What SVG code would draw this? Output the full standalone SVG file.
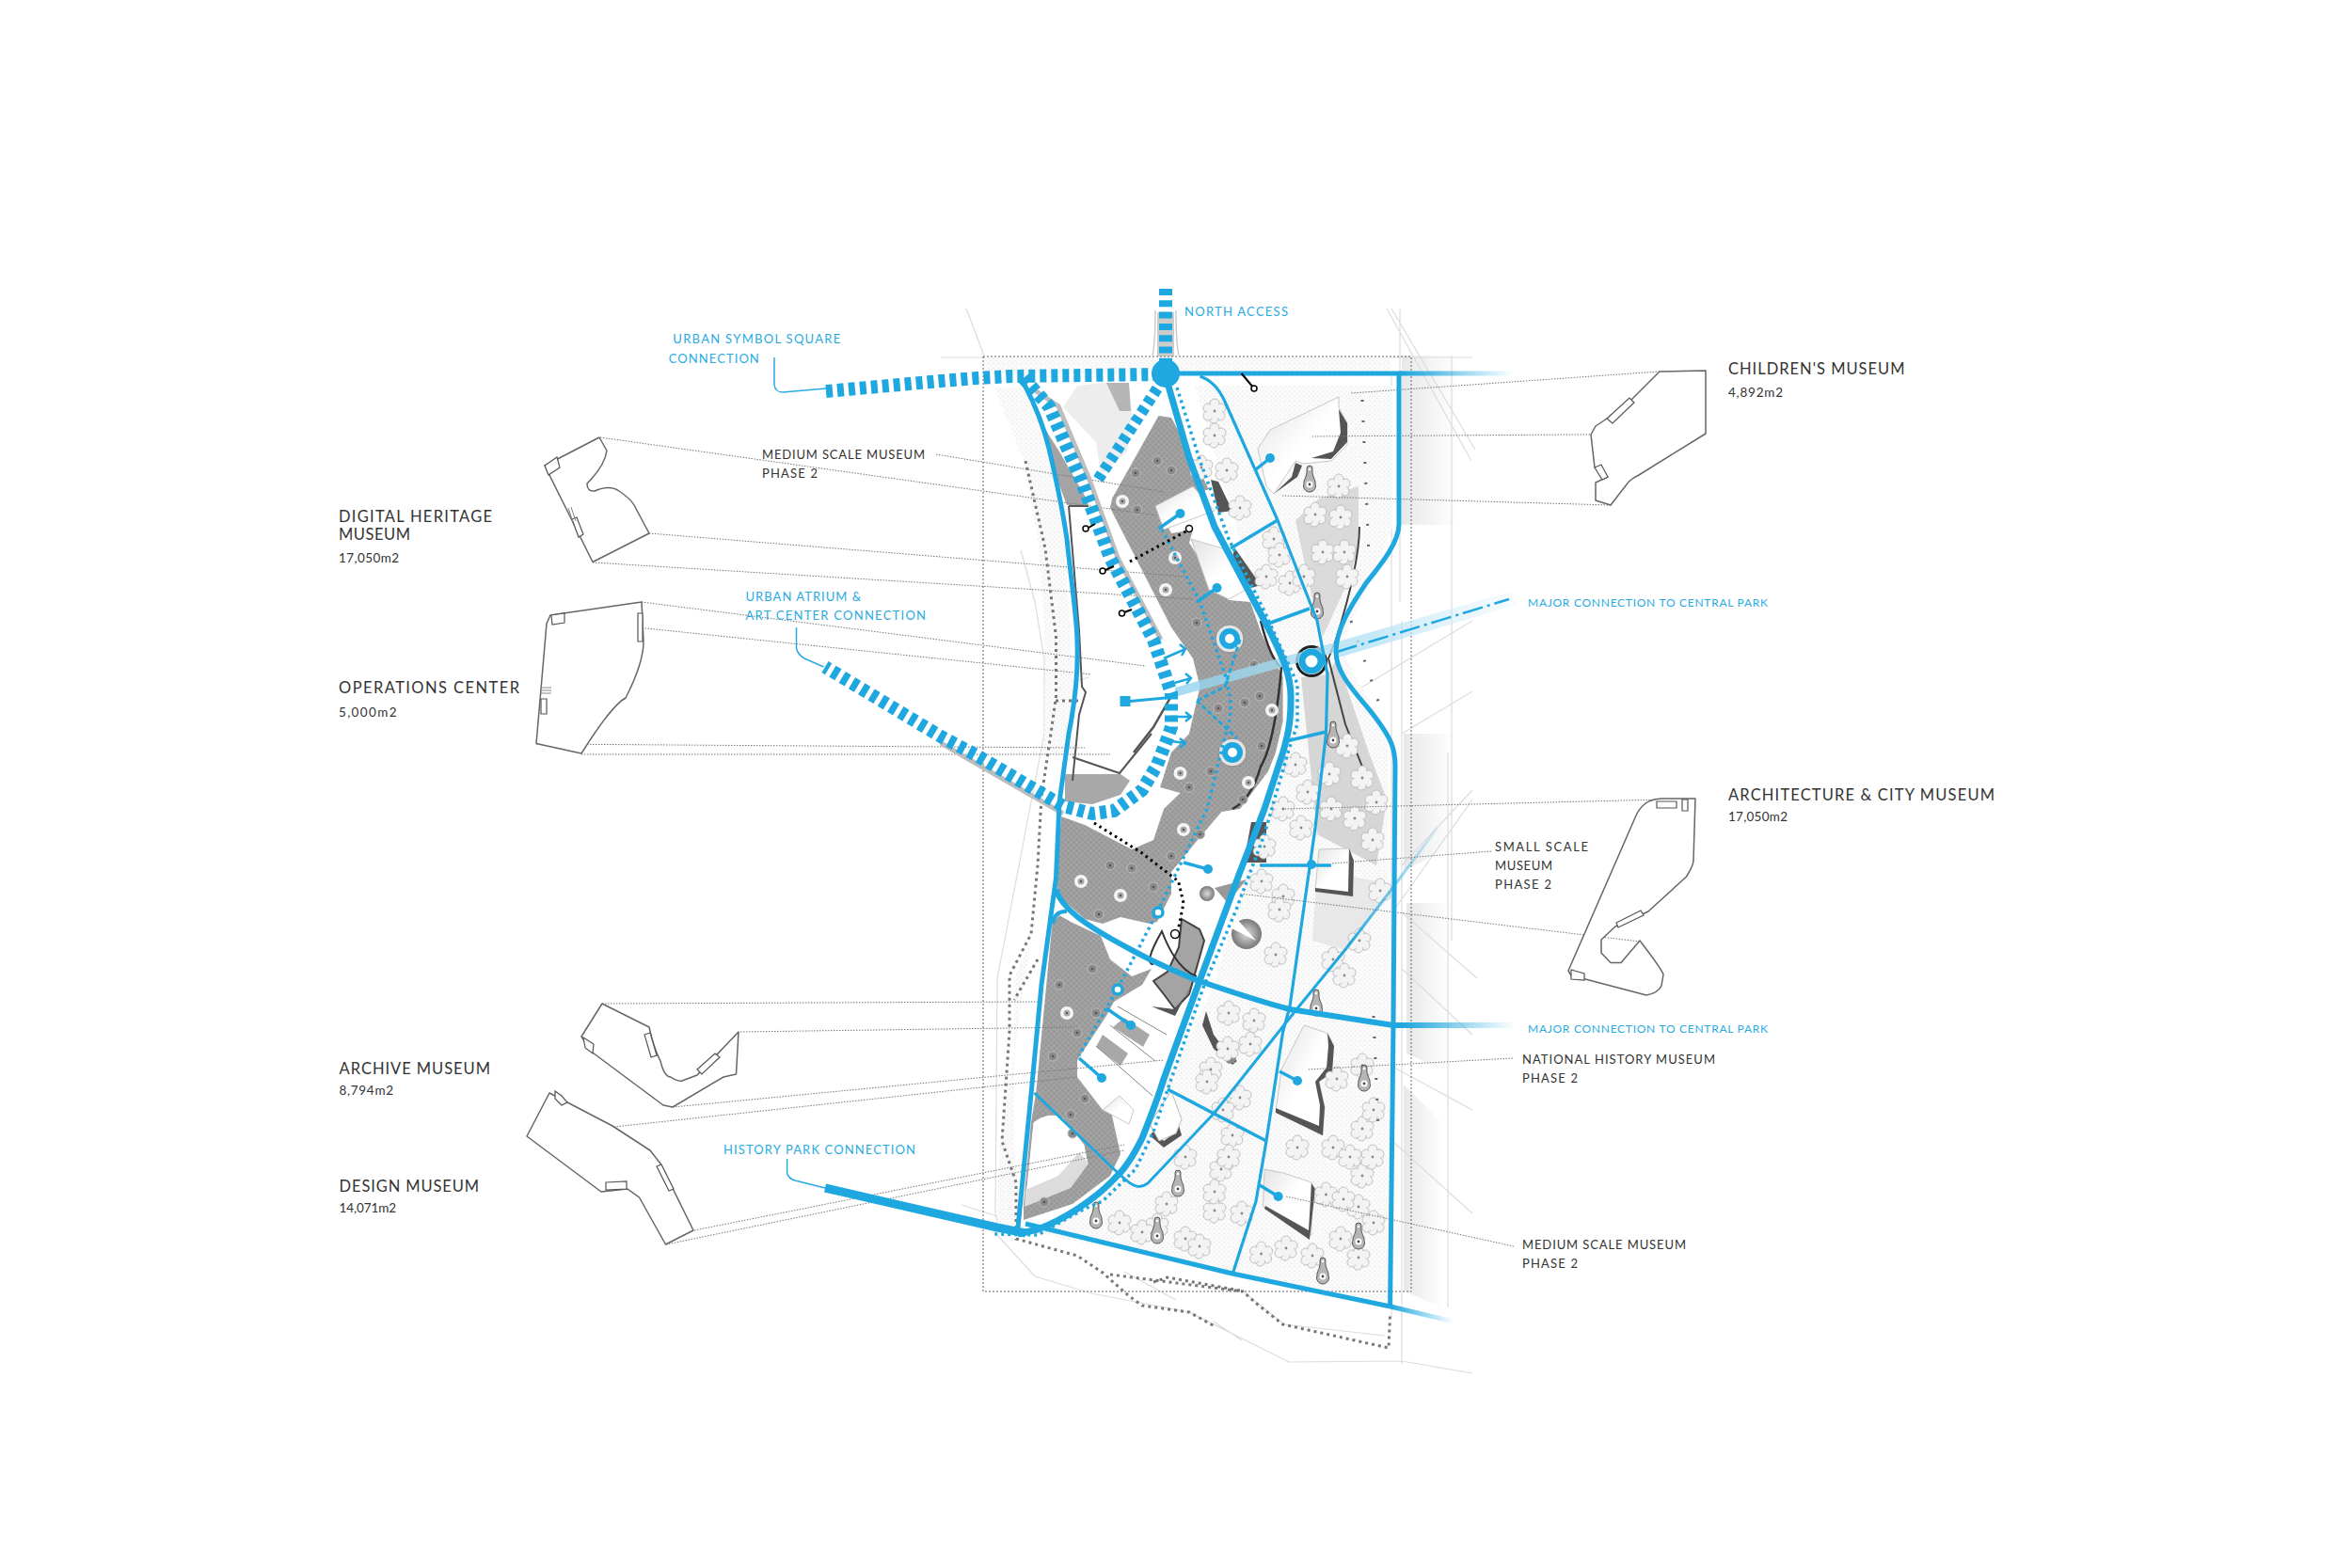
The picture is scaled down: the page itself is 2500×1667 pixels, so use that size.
<svg xmlns="http://www.w3.org/2000/svg" width="2500" height="1667" viewBox="0 0 2500 1667">
<style>
text{font-family:"Lato","Liberation Sans",sans-serif;font-size:13px;fill:#333}
.h{font-size:16.5px;font-weight:400;fill:#333}
.n{font-size:13.5px}
.b{fill:#29abe2}
.ld{fill:none;stroke:#777;stroke-width:1;stroke-dasharray:1.5 1.5}
.key{fill:#fff;stroke:#666;stroke-width:1.5;stroke-linejoin:round}
.kd{fill:#fff;stroke:#555;stroke-width:1.2}
.ctx{fill:none;stroke:#dcdcdc;stroke-width:1.2}
.call{fill:none;stroke:#29abe2;stroke-width:1.5}
.r{fill:none;stroke:#1fa8e0;stroke-linecap:butt;stroke-linejoin:round}
.dash{fill:none;stroke:#1fa8e0;stroke-width:14;stroke-dasharray:7 5}
.under{fill:none;stroke:#bdbdbd;stroke-width:5}
.dot{fill:none;stroke:#1fa8e0;stroke-width:3.5;stroke-dasharray:3 4}
.bd{fill:none;stroke:#000;stroke-width:3;stroke-dasharray:2.5 4}
.gd{fill:none;stroke:#777;stroke-width:3;stroke-dasharray:3 4}
.dk{fill:#555}
.w{fill:#fff}
.pin{fill:none;stroke:#000;stroke-width:2}
.ring{fill:#fff;stroke:#000;stroke-width:1.5}
.bl{fill:#1fa8e0}
.bldg{fill:url(#bg);stroke:#bbb;stroke-width:.8}
</style>
<defs>
<linearGradient id="bg" x1="0" y1="0" x2="1" y2="1"><stop offset="0" stop-color="#e2e2e2"/><stop offset=".5" stop-color="#fff"/><stop offset="1" stop-color="#fff"/></linearGradient>
<linearGradient id="side" x1="0" x2="1" y1="0" y2="0"><stop offset="0" stop-color="#e8e8e8"/><stop offset="1" stop-color="#fff"/></linearGradient>
<linearGradient id="f1" gradientUnits="userSpaceOnUse" x1="1490" y1="0" x2="1610" y2="0"><stop offset="0" stop-color="#1fa8e0"/><stop offset="1" stop-color="#1fa8e0" stop-opacity="0"/></linearGradient>
<linearGradient id="f2" gradientUnits="userSpaceOnUse" x1="1478" y1="1389" x2="1545" y2="1405"><stop offset="0" stop-color="#1fa8e0"/><stop offset="1" stop-color="#1fa8e0" stop-opacity="0"/></linearGradient>
<linearGradient id="f3" gradientUnits="userSpaceOnUse" x1="1432" y1="1007" x2="1528" y2="880"><stop offset="0" stop-color="#1fa8e0"/><stop offset="1" stop-color="#1fa8e0" stop-opacity=".1"/></linearGradient>
<linearGradient id="f4" gradientUnits="userSpaceOnUse" x1="1249" y1="742" x2="1610" y2="642"><stop offset="0" stop-color="#8fd2ee"/><stop offset=".6" stop-color="#b9e3f5"/><stop offset="1" stop-color="#d9f0fa" stop-opacity=".3"/></linearGradient>
<radialGradient id="cone"><stop offset="0" stop-color="#ddd"/><stop offset="1" stop-color="#777"/></radialGradient>
<pattern id="stip" width="5" height="5" patternUnits="userSpaceOnUse"><rect width="5" height="5" fill="#fbfbfb"/><circle cx="1" cy="1" r=".6" fill="#d4d4d4"/><circle cx="3.500" cy="3.500" r=".5" fill="#dedede"/></pattern>
<pattern id="half" width="6" height="6" patternUnits="userSpaceOnUse"><rect width="6" height="6" fill="#a2a2a2"/><circle cx="1.500" cy="1.500" r="1.200" fill="#949494"/><circle cx="4.500" cy="4.500" r="1.200" fill="#949494"/></pattern>
<g id="tr"><g fill="#f3f3f3" stroke="#b4b4b4" stroke-width=".8"><circle cx="-7" cy="-3" r="5"/><circle cx="0" cy="-8" r="5"/><circle cx="7" cy="-3" r="5"/><circle cx="6" cy="5" r="5"/><circle cx="-1" cy="8" r="5"/><circle cx="-7" cy="5" r="5"/></g><circle r="8" fill="#f3f3f3"/><circle r="1.400" fill="#888"/></g>
<g id="gc"><circle r="5" fill="#8a8a8a" stroke="#bdbdbd" stroke-width="1"/><circle r="1.300" fill="#555"/></g>
<g id="wc"><circle r="7" fill="#fff" opacity=".9"/><circle r="3.500" fill="#aaa"/><circle r="1.200" fill="#555"/></g>
<g id="fn"><path d="M-6 4 A6.500 6.500 0 1 0 6 4 C7 0 2 -3 3 -12 A3 3 0 0 0 -3 -12 C-2 -3 -7 0 -6 4Z" fill="#b5b5b5" stroke="#333" stroke-width=".8"/><circle cy="5" r="3.500" fill="#fff"/><circle cy="5" r="1.400" fill="#444"/><circle cy="-11" r="1.300" fill="#fff"/></g>
</defs>
<rect width="2500" height="1667" fill="#fff"/>

<g id="site-context">
<rect x="1490" y="378" width="60" height="180" fill="url(#side)"/>
<path d="M1492 780H1545V900L1492 925Z" fill="url(#side)"/>
<path d="M1495 960H1540V1140L1495 1120Z" fill="url(#side)"/>
<path d="M1492 1153L1535 1195V1392L1492 1372Z" fill="url(#side)"/>
<path class="ctx" d="M1027 328L1046 378M1474 328L1564 490M1479 328L1568 478M1488 328V640M1543 378V1000M1000 380H1565M1479 400V1400M1490 660V1450M1539 800V1390M1565 660L1432 740M1565 735L1490 780M1565 840L1490 920M1565 850L1480 970M1570 1040L1490 970M1565 1100L1490 1030M1565 1180L1482 1135M1565 1290L1482 1215M1022 1281L1082 1300M1060 1313L1100 1357L1160 1375L1264 1395L1370 1448L1490 1447L1565 1460M1290 1405L1320 1425M1320 1372L1365 1408L1472 1420M1195 1352L1250 1382"/>
<path class="ctx" d="M1085 585L1100 640L1110 700V780L1060 1040L1058 1290L1060 1300M1158 720L1120 730V800"/>
<path d="M1225 378Q1228 365 1228 330M1253 378Q1250 365 1250 330" fill="none" stroke="#ccc" stroke-width="1.500"/>
<rect x="1230" y="332" width="18" height="48" fill="#ccc"/>
<path d="M1045 379H1478V397H1045Z" fill="url(#stip)"/>
<path d="M1057 412H1088L1107 450L1130 550L1138 680L1142 800L1110 800L1111 680L1103 570L1088 490Z" fill="url(#stip)"/>
<path d="M1096 1000L1078 1040L1078 1210L1085 1305L1060 1300L1062 1220Z" fill="url(#stip)"/>
</g>

<g id="plan">
<path d="M1270 410H1480V560L1425 690L1475 780L1478 1385L1105 1312L1190 1250L1240 1150L1290 1050L1380 730L1340 650Z" fill="url(#stip)"/>
<path d="M1377 553L1402 530L1444 517V583L1432 620L1406 677L1394 633Z" fill="#dadada"/>
<path d="M1383 720L1411 717L1421 700L1455 800L1474 850L1463 920L1400 887Z" fill="#d6d6d6"/>
<path d="M1400 925L1480 940L1430 1010L1395 1000Z" fill="#e8e8e8"/>
<path d="M1231.500 442L1245 444L1285 520L1230 538L1245 567L1268 563L1264 577L1283 607L1306 638L1329 640L1340.600 673L1363.600 720L1363.600 767L1356 800L1348 820L1318 860L1298.500 863L1275.500 890L1245 927L1245 950L1230 980L1222 982L1191 975L1172 982L1153 977L1130 957L1122.500 940L1128 868L1153 877L1203 903L1226 893L1237 860L1254.500 843L1233 837L1245 800L1264 780L1275.500 730L1268 700L1245 667L1180 540L1182 530Z" fill="url(#half)"/>
<path d="M1107 450L1126 480L1153 527L1157 537L1134 537L1122.500 507L1111 470Z" fill="#a4a4a4"/>
<path d="M1174 407L1200 407L1203 440L1198 480L1170 505L1165 470L1130 433L1145 410Z" fill="#ededed"/>
<path d="M1176 407H1200L1202 437H1190Z" fill="#b5b5b5"/>
<path d="M1132 823H1191L1201 830L1191 845L1161 855L1132 852Z" fill="#a8a8a8"/>
<path d="M1126 973L1138 980L1170 995L1180 1020L1203 1038L1224 1030L1214 1047L1184 1065L1176 1080L1145 1127L1145 1145L1180 1177L1191 1227L1180 1250L1140 1280L1088 1297L1088 1280L1096 1193L1101.400 1160L1118.600 980Z" fill="url(#half)"/>
<path d="M1098 1193Q1115 1180 1130 1188L1153 1217L1157 1237L1138 1263L1089 1280Z" fill="#fff" stroke="#999"/>
<path d="M1089 1283L1138 1263L1157 1237L1147 1225L1125 1250L1090 1265Z" fill="#dcdcdc"/>
<path d="M1256 977L1275 988L1280 1000L1264 1057L1249 1073L1237 1057L1226 1043L1241 1033L1253 1007Z" fill="#a4a4a4" stroke="#444" stroke-width="2"/>
<path d="M1226 1025Q1215 1025 1235 990Q1250 1030 1272 1038" fill="none" stroke="#333" stroke-width="2"/>
<path d="M1136 538H1157M1136 538L1147 670L1150 730L1154 736L1147 760L1140 830M1140 805L1190 822L1224 780" fill="none" stroke="#555" stroke-width="2"/>
<path d="M1245 740L1226 773L1205 800" fill="none" stroke="#555" stroke-width="2.500"/>
<path d="M1340 660Q1350 700 1362 710Q1355 790 1340 815Q1330 850 1310 860" fill="none" stroke="#333" stroke-width="2.500"/>
<path d="M1420 680L1412 700L1430 770L1454 830M1445 560Q1445 600 1420 680" fill="none" stroke="#444" stroke-width="2"/>
<g id="bldg-children"><path class="bldg" d="M1350 457L1423 422L1423 433L1432 450L1432 473L1415 490L1385 493L1377 490L1354 525L1346 517L1337 477Z"/><path class="dk" d="M1423 435L1432 450L1432 470L1415 488L1394 487L1417 480L1425 460ZM1377 492L1384 495L1379 507L1354 525L1373 507Z"/></g>
<g id="bldg-2"><path class="bldg" d="M1228 538L1268 517L1291 543L1237 563Z"/><path class="dk" d="M1287 510L1295 512L1310 543L1295 545Z"/></g>
<g id="bldg-3"><path class="bldg" d="M1266 573L1306 585L1337 620L1306 637L1285 627Z"/><path class="dk" d="M1312 582L1340 622L1330 625L1310 595Z"/></g>
<g id="bldg-white"><path class="w" d="M1302 867L1329 863L1337 873L1318 923L1295 937L1275.500 943L1260 917Z"/><circle cx="1283" cy="950" r="8" fill="url(#cone)"/><path d="M1291 944L1325 935L1305 960Z" fill="#999"/><circle cx="1325" cy="993" r="16" fill="url(#cone)"/><path class="w" d="M1270 975L1305 985L1335 1000L1300 960Z"/><path class="dk" d="M1330 874H1346V917H1322Z"/></g>
<g id="bldg-small"><path class="bldg" d="M1402 903L1434 902L1438 952L1398 947Z"/><path class="dk" d="M1434 902L1439 915L1438 953L1398 948L1398 944L1433 948Z"/></g>
<g id="bldg-south"><path class="w" d="M1195 1062L1222 1073L1207 1100L1180 1090ZM1165 1112L1179 1085L1240 1140L1226 1192L1214 1180L1200 1190L1172 1180L1145 1145Z"/><path d="M1165 1113L1191 1133L1199 1120L1172 1100ZM1183 1092L1215 1113L1222 1100L1195 1082Z" fill="#a8a8a8"/><path class="bldg" d="M1172 1180L1190 1165L1205 1180L1200 1195Z"/><path d="M1180 1090L1228 1128M1165 1112L1225 1165M1188 1070L1240 1100" stroke="#888" fill="none"/><path d="M1224 1070L1249 1080L1266 1047L1262 1056L1249 1073Z" class="dk"/><path class="dk" d="M1222 1207L1237 1220L1256 1207L1252 1193L1248 1205L1237 1213L1226 1203Z"/><path d="M1245 1160L1256 1190L1250 1205L1232 1213L1222 1195Z" fill="#fff" stroke="#bbb"/><path class="dk" d="M1282 1075L1290 1100L1305 1120L1315 1128L1310 1132L1290 1115L1278 1090Z"/><circle cx="1308" cy="1125" r="6" fill="#888"/></g>
<g id="bldg-national"><path class="bldg" d="M1386 1090L1409.600 1098L1417 1112L1415 1140L1402 1150L1408 1177L1405.600 1207L1356 1182L1362 1137Z"/><path class="dk" d="M1411 1098L1418 1112L1416 1140L1402 1150L1408 1177L1406 1207L1356 1183L1356 1178L1402 1197L1403 1175L1398 1150L1410 1135L1412 1112Z"/></g>
<g id="bldg-medium"><path class="bldg" d="M1364 1247L1394 1257L1394 1313L1342.500 1283L1344 1243Z"/><path class="dk" d="M1394 1258L1398 1264L1392 1318L1344 1285L1345 1282L1391 1308Z"/></g>
<g id="trees">
<use href="#tr" x="1291" y="437"/><use href="#tr" x="1291" y="463"/><use href="#tr" x="1277" y="497"/><use href="#tr" x="1304" y="500"/><use href="#tr" x="1318" y="540"/><use href="#tr" x="1354" y="573"/><use href="#tr" x="1360" y="590"/><use href="#tr" x="1346" y="613"/><use href="#tr" x="1371" y="620"/><use href="#tr" x="1398" y="547"/><use href="#tr" x="1423" y="517"/><use href="#tr" x="1425" y="550"/><use href="#tr" x="1406" y="587"/><use href="#tr" x="1429" y="587"/><use href="#tr" x="1432" y="613"/><use href="#tr" x="1386" y="613"/>
<use href="#tr" x="1377" y="813"/><use href="#tr" x="1390" y="842"/><use href="#tr" x="1413" y="823"/><use href="#tr" x="1432" y="793"/><use href="#tr" x="1448" y="827"/><use href="#tr" x="1463" y="853"/><use href="#tr" x="1459" y="893"/><use href="#tr" x="1364" y="860"/><use href="#tr" x="1383" y="880"/><use href="#tr" x="1344" y="900"/><use href="#tr" x="1364" y="953"/><use href="#tr" x="1341" y="937"/><use href="#tr" x="1360" y="967"/><use href="#tr" x="1467" y="947"/><use href="#tr" x="1417" y="1020"/><use href="#tr" x="1429" y="1037"/><use href="#tr" x="1356" y="1015"/><use href="#tr" x="1306" y="1077"/><use href="#tr" x="1333" y="1085"/><use href="#tr" x="1329" y="1110"/><use href="#tr" x="1287" y="1137"/><use href="#tr" x="1283" y="1150"/><use href="#tr" x="1318" y="1167"/><use href="#tr" x="1448" y="1133"/><use href="#tr" x="1421" y="1147"/>
<use href="#tr" x="1310" y="1207"/><use href="#tr" x="1298" y="1243"/><use href="#tr" x="1448" y="1200"/><use href="#tr" x="1448" y="1250"/><use href="#tr" x="1417" y="1220"/><use href="#tr" x="1444" y="1283"/><use href="#tr" x="1444" y="1337"/><use href="#tr" x="1379" y="1220"/><use href="#tr" x="1409.500" y="1270"/><use href="#tr" x="1367" y="1327"/><use href="#tr" x="1291" y="1287"/><use href="#tr" x="1260" y="1317"/><use href="#tr" x="1230" y="1303"/><use href="#tr" x="1291" y="1267"/><use href="#tr" x="1340.600" y="1333"/><use href="#tr" x="1214" y="1310"/><use href="#tr" x="1260" y="1230"/><use href="#tr" x="1306" y="1230"/><use href="#tr" x="1425" y="1317"/><use href="#tr" x="1459" y="1230"/>
<use href="#tr" x="1275" y="1325"/><use href="#tr" x="1320" y="1290"/><use href="#tr" x="1240" y="1280"/><use href="#tr" x="1190" y="1300"/><use href="#tr" x="1460" y="1180"/><use href="#tr" x="1435" y="1230"/><use href="#tr" x="1460" y="1300"/><use href="#tr" x="1428" y="1275"/><use href="#tr" x="1395" y="1335"/><use href="#tr" x="1305" y="1115"/><use href="#tr" x="1300" y="1180"/><use href="#tr" x="1440" y="870"/><use href="#tr" x="1415" y="860"/><use href="#tr" x="1445" y="1000"/>
</g>
<g id="plaza-dots">
<use href="#gc" x="1230" y="490"/><use href="#gc" x="1207" y="503"/><use href="#gc" x="1245" y="500"/><use href="#wc" x="1193" y="533"/><use href="#gc" x="1208.600" y="542"/><use href="#wc" x="1239" y="627"/><use href="#wc" x="1249" y="593"/><use href="#gc" x="1272" y="662"/><use href="#gc" x="1333" y="707"/><use href="#gc" x="1323" y="747"/><use href="#gc" x="1295" y="753"/><use href="#gc" x="1339" y="740"/><use href="#wc" x="1352" y="755"/><use href="#gc" x="1341" y="793"/><use href="#wc" x="1254.500" y="822"/><use href="#wc" x="1327" y="832"/><use href="#gc" x="1264" y="837"/><use href="#gc" x="1287" y="820"/><use href="#gc" x="1321" y="850"/><use href="#gc" x="1275.500" y="887"/><use href="#wc" x="1258" y="882"/><use href="#gc" x="1245" y="910"/><use href="#gc" x="1226" y="943"/><use href="#gc" x="1203" y="923"/><use href="#gc" x="1180" y="920"/><use href="#gc" x="1168" y="972"/><use href="#wc" x="1149" y="937"/><use href="#wc" x="1191" y="952"/><use href="#gc" x="1161" y="1030"/><use href="#gc" x="1126" y="1047"/><use href="#wc" x="1134" y="1077"/><use href="#gc" x="1165" y="1077"/><use href="#gc" x="1145" y="1098"/><use href="#gc" x="1119" y="1123"/><use href="#gc" x="1153" y="1168"/><use href="#gc" x="1138" y="1185"/><use href="#gc" x="1110" y="1278"/><use href="#gc" x="1140" y="1205"/>
</g>
<g id="fountains">
<use href="#fn" x="1392" y="510"/><use href="#fn" x="1400" y="645"/><use href="#fn" x="1417" y="782"/><use href="#fn" x="1252" y="1259"/><use href="#fn" x="1444" y="1315"/><use href="#fn" x="1406" y="1352"/><use href="#fn" x="1450" y="1147"/><use href="#fn" x="1165" y="1293"/><use href="#fn" x="1230" y="1309"/><use href="#fn" x="1399" y="1067"/>
<circle cx="1394" cy="703" r="17" fill="#222"/><circle cx="1394" cy="703" r="14" fill="#fff"/>
<circle cx="1307" cy="679" r="15" fill="#e4e4e4" stroke="#888"/><circle cx="1310" cy="800" r="15" fill="#e4e4e4" stroke="#888"/>
</g>
<path d="M1448 425L1455 590M1436 660L1470 760M1460 1080L1465 1200" fill="none" stroke="#666" stroke-width="3" stroke-dasharray="2 20"/>
</g>

<g id="connectors">
<g id="leaders">
<path class="ld" d="M638 465L1230 548M690 567L1260 613M630 598L1268 637M995 483L1237 523M682 640L1218 708M590 658L1160 717M570 791L1153 795M618 802L1180 802M640 1067L1103 1065M787 1097L1145 1092M715 1177L1237 1127M560 1208L1145 1145M738 1308L1195 1217M708 1323L1195 1223M1764 395L1436 418M1813 461L1395 464M1712 537L1363 527M1766 850L1363 860M1743 1001L1317 950M1585 905L1415 918M1608 1125L1390 1137M1609 1325L1367 1272"/>
</g>
<g id="gray-trails">
<path class="gd" d="M1090 490L1111 583L1122.500 677V740L1117 780L1107 847L1103 920L1096 993L1073 1037V1097L1065 1213L1080 1257L1080 1317L1145 1335L1172 1353L1199 1377L1214 1388L1264 1395L1291 1410"/>
<path class="gd" d="M1180 1355L1321 1373L1337 1387L1363.600 1408L1476 1433L1477.600 1397M1226 1363L1241 1358L1318 1372M1103 1020L1078 1063M1122 745H1146"/>
</g>
<rect id="site-boundary" x="1045" y="379" width="455" height="994" fill="none" stroke="#666" stroke-width="1" stroke-dasharray="2 2"/>
<path d="M1249 741L1421 693L1423 699L1612 643L1605 629L1419 683L1249 731Z" fill="url(#f4)" opacity=".8"/>
<g id="blue-roads">
<path class="under" d="M1000 790L1038 812L1130 865M1100 415L1125 432L1158 510L1188 593L1234 680"/>
<path class="r" stroke-width="5" d="M1239 397H1490"/>
<path class="r" stroke-width="5" style="stroke:url(#f1)" d="M1487 397H1610"/>
<path class="r" stroke-width="5" d="M1487 397V557C1487 577 1468 600 1452 620C1435 645 1420 670 1420 693C1420 720 1450 745 1465 767C1478 785 1483 795 1483 815L1481 1090L1477.600 1388"/>
<path class="r" stroke-width="5" d="M1090 1301L1310 1354L1478 1389"/>
<path class="r" stroke-width="5" style="stroke:url(#f2)" d="M1478 1389L1545 1405"/>
<path class="r" stroke-width="9" d="M877 1263L1060 1305L1090 1311"/>
<path class="r" stroke-width="5" d="M1088 407C1100 430 1110 455 1115 477C1125 520 1130 545 1134 573C1140 630 1145 660 1145 683C1146 710 1144 740 1136 780L1126 853L1122.500 933L1107 1047L1096 1163L1082 1305"/>
<path class="r" stroke-width="6" d="M1122 945C1128 965 1150 982 1203 1010C1230 1025 1250 1033 1272 1042C1310 1055 1340 1065 1371 1073L1481 1090"/>
<path class="r" stroke-width="6" style="stroke:url(#f1)" d="M1481 1090H1610"/>
<path class="r" stroke-width="4" d="M1119 982Q1121 968 1134 969"/>
<path class="r" stroke-width="7" d="M1241 407L1264 487L1291 560L1344 660C1365 700 1373 720 1372 745C1372 770 1368 785 1363.600 800L1344 860L1318 927L1275 1043L1237 1147C1230 1170 1222 1190 1214 1210C1204 1230 1195 1243 1187.500 1250C1165 1275 1130 1297 1103 1307L1082 1312"/>
<path class="dot" d="M1251 412L1275.500 490L1306 573L1344 650L1379 727L1379 770L1369 800L1344 887L1314 967L1279 1050L1245 1147L1226 1203L1207 1243L1172 1277L1153 1285L1103 1313L1055.500 1312"/>
<path class="r" stroke-width="3.200" d="M1275.500 400C1290 405 1298 418 1302 427L1358 553L1400 660L1411 717L1409.500 780L1398 880L1371 1070L1363.600 1097L1346 1213L1335 1277L1310 1355"/>
<path class="r" stroke-width="3" d="M1099.500 1162L1184 1243L1195 1253C1205 1262 1212 1264 1220 1258L1291 1183L1375 1077L1432 1007"/>
<path class="r" stroke-width="3" style="stroke:url(#f3)" d="M1432 1007L1478 947L1528 880"/>
<path class="r" stroke-width="3.500" d="M1241 1158L1346 1213M1358 553L1308 583M1392 647L1348 663M1409.500 778L1367 788"/>
<path class="r" stroke-width="3.500" d="M1335 499L1350 487M1231.500 562L1254.500 546M1272 640L1293.500 625M1284 924L1258 917M1339 920H1415M1202 1090L1176 1072M1171 1146L1147 1125M1379 1149L1360 1139M1358.600 1272L1339 1260"/>
<g class="bl"><circle cx="1350" cy="487" r="5"/><circle cx="1254.500" cy="546" r="5"/><circle cx="1293.500" cy="625" r="5"/><circle cx="1284" cy="924" r="5"/><circle cx="1394" cy="919" r="5"/><circle cx="1202" cy="1090" r="5"/><circle cx="1171" cy="1146" r="5"/><circle cx="1379" cy="1149" r="5"/><circle cx="1358.600" cy="1272" r="5"/></g>
<path class="dash" d="M878 416L1000 405L1038 402L1076 400L1230 398"/>
<path class="dash" d="M1239 307V384" style="stroke-dasharray:7 5.300"/>
<path class="dash" d="M1088 402L1115 432L1149 510L1180 593L1226 680L1245 737L1245 773L1239 790L1230 813L1214 840L1184 862L1161 865L1130 857L1038 803L1000 783L877 709"/>
<path class="dash" style="stroke-width:12" d="M1230 413L1165 513"/>
<circle cx="1239" cy="397" r="15" class="bl"/>
<path class="r" stroke-width="3" d="M1196 746L1249 741"/>
<rect x="1190.500" y="740" width="11" height="11" class="bl"/>
<path class="r" stroke-width="2.500" d="M1421 693L1604 637" stroke-dasharray="22 5 3 5"/>
<path class="r" stroke-width="2.500" d="M1237 700L1260 690M1254 685L1260 690L1256 697M1245 727L1266 721M1260 716L1266 721L1261 727M1245 762H1266M1260 757L1266 762L1260 767M1245 788L1260 790M1254 785L1260 790L1254 795"/>
<path class="dot" d="M1235 563L1275.500 640L1302 717C1310 745 1310 760 1302 783L1283 860L1230 970L1187.500 1052L1147 1122"/>
<path class="dot" style="stroke-width:3;stroke-dasharray:5 3" d="M1318 680L1302 730L1272 745M1272 745L1315 785"/>
<g fill="#fff" stroke="#1fa8e0"><circle cx="1231" cy="970" r="5" stroke-width="3.500"/><circle cx="1188" cy="1052" r="5" stroke-width="3.500"/><circle cx="1307" cy="679" r="8" stroke-width="6"/><circle cx="1310" cy="800" r="8" stroke-width="6"/><circle cx="1394" cy="703" r="10" stroke-width="7"/></g>
</g>
<g id="black-marks">
<path class="bd" d="M1201 597L1266 562M1163 875L1214 907L1252.600 937L1258 960L1252.600 987"/>
<path class="pin" d="M1319.600 397L1333 413M1157 561L1164 557M1175 606L1184 602M1195 651L1203 648"/>
<circle class="ring" cx="1264" cy="562" r="3.500"/><circle class="ring" cx="1249" cy="993" r="4.500"/><circle class="ring" cx="1333" cy="413" r="3"/><circle class="ring" cx="1154" cy="562" r="3"/><circle class="ring" cx="1172" cy="607" r="3"/><circle class="ring" cx="1192.500" cy="652" r="3"/>
</g>
<g id="callouts">
<path class="call" d="M823 380V409Q824 417 832 417L878 413"/>
<path class="call" d="M846.500 667V689Q848 696 855 700L875.500 709"/>
<path class="call" d="M836.600 1232V1247Q838 1253 845 1255L877 1263"/>
</g>
</g>

<g id="node-digital-heritage">
<path class="key" d="M637 465L645 479Q643 495 624 514Q624 523 632 522Q648 515 658 522Q670 530 674 537L690 567L630 597.500L579 495Z"/>
<path class="kd" d="M579 495L592 486L595 497L583 505ZM608 552L613 550L620 568L615 571Z"/>
<path d="M604 540L609 555M607 539L612 554" stroke="#888" fill="none"/>
<text class="h" x="360" y="554.500" textLength="163">DIGITAL HERITAGE</text><text class="h" x="360" y="574" textLength="76">MUSEUM</text><text class="n" x="360" y="598" textLength="64">17,050m2</text>
</g>
<g id="node-operations-center">
<path class="key" d="M682 640L585 654L581 663L570 790.500L618 801Q650 750 665 742Q684 705 684 682Z"/>
<path class="kd" d="M586 654L600 652L600 662L587 664ZM678 652H683V682H678ZM575 743H581V759H575Z"/>
<path d="M575 731H586M575 734H586M575 737H586" stroke="#888" fill="none"/>
<text class="h" x="360" y="737" textLength="192">OPERATIONS CENTER</text><text class="n" x="360" y="761.500" textLength="61.500">5,000m2</text>
</g>
<g id="node-archive-museum">
<path class="key" d="M640 1067L690 1092Q695 1115 702 1128Q706 1145 713 1145Q720 1150 725 1149L741 1143L785 1097L782.500 1142L769 1145L715 1177L705 1175L628.500 1118L618 1102Z"/>
<path class="kd" d="M620 1103L631 1110L630 1120L622 1114ZM685 1100L691 1098L698 1122L692 1124ZM741 1137L760 1120L765 1124L746 1142Z"/>
<text class="h" x="360.600" y="1142" textLength="160.400">ARCHIVE MUSEUM</text><text class="n" x="360.600" y="1164" textLength="57.400">8,794m2</text>
</g>
<g id="node-design-museum">
<path class="key" d="M584 1162L651 1197L691 1223L702 1237L737 1308L707.500 1323L679.500 1273L667 1264L639 1267L560 1208Z"/>
<path class="kd" d="M590 1160L597 1165L603 1172L597 1175L590 1168ZM644 1257L666 1256L666 1264L644 1265ZM698 1240L703 1238L716 1264L711 1266Z"/>
<text class="h" x="360.600" y="1267" textLength="148.400">DESIGN MUSEUM</text><text class="n" x="360.600" y="1289" textLength="60.400">14,071m2</text>
</g>
<g id="node-childrens-museum">
<path class="key" d="M1764 395L1813 394V461L1742 505Q1732 510 1729 515L1712 537L1696 532V513L1709 507L1695 497L1691 462L1696 453L1711 443L1734 425Z"/>
<path class="kd" d="M1695 497L1702 494L1709 507L1703 510ZM1708 445L1732 423L1737 428L1714 450Z"/>
<text class="h" x="1837" y="398" textLength="187.500">CHILDREN'S MUSEUM</text><text class="n" x="1837" y="422" textLength="58">4,892m2</text>
</g>
<g id="node-architecture-museum">
<path class="key" d="M1802 849H1766Q1753 850 1748 855Q1742 860 1739 867L1667 1032L1670 1037L1750 1058Q1762 1056 1766 1048L1768 1036Q1766 1030 1743 1000L1723 1023.500H1712L1702 1013L1702 999L1717 985L1752 969L1792.500 932Q1800 920 1800 915Z"/>
<path class="kd" d="M1761 852H1782V859H1761ZM1788 850H1794V862H1788ZM1718 981L1744 968L1747 973L1720 986ZM1670 1037L1670 1041L1684 1042L1684 1035L1670 1031Z"/>
<text class="h" x="1837" y="851" textLength="283">ARCHITECTURE &amp; CITY MUSEUM</text><text class="n" x="1837" y="873.400" textLength="63">17,050m2</text>
</g>

<g id="labels">
<text class="b" x="715.300" y="365" textLength="178">URBAN SYMBOL SQUARE</text><text class="b" x="710.800" y="386" textLength="96">CONNECTION</text>
<text x="810" y="488" textLength="173">MEDIUM SCALE MUSEUM</text><text x="810" y="508" textLength="59">PHASE 2</text>
<text class="b" x="792.500" y="639" textLength="122.500">URBAN ATRIUM &amp;</text><text class="b" x="792.500" y="659" textLength="191.500">ART CENTER CONNECTION</text>
<text class="b" x="769" y="1227" textLength="204">HISTORY PARK CONNECTION</text>
<text class="b" x="1259" y="336" textLength="110">NORTH ACCESS</text>
<text class="b" x="1624" y="645" textLength="255" style="font-size:12px">MAJOR CONNECTION TO CENTRAL PARK</text>
<text class="b" x="1624" y="1098" textLength="255" style="font-size:12px">MAJOR CONNECTION TO CENTRAL PARK</text>
<text x="1589" y="905" textLength="99">SMALL SCALE</text><text x="1589" y="925" textLength="61">MUSEUM</text><text x="1589" y="945" textLength="60">PHASE 2</text>
<text x="1618" y="1131" textLength="205">NATIONAL HISTORY MUSEUM</text><text x="1618" y="1151" textLength="59">PHASE 2</text>
<text x="1618" y="1328" textLength="174">MEDIUM SCALE MUSEUM</text><text x="1618" y="1348" textLength="59">PHASE 2</text>
</g>
</svg>
